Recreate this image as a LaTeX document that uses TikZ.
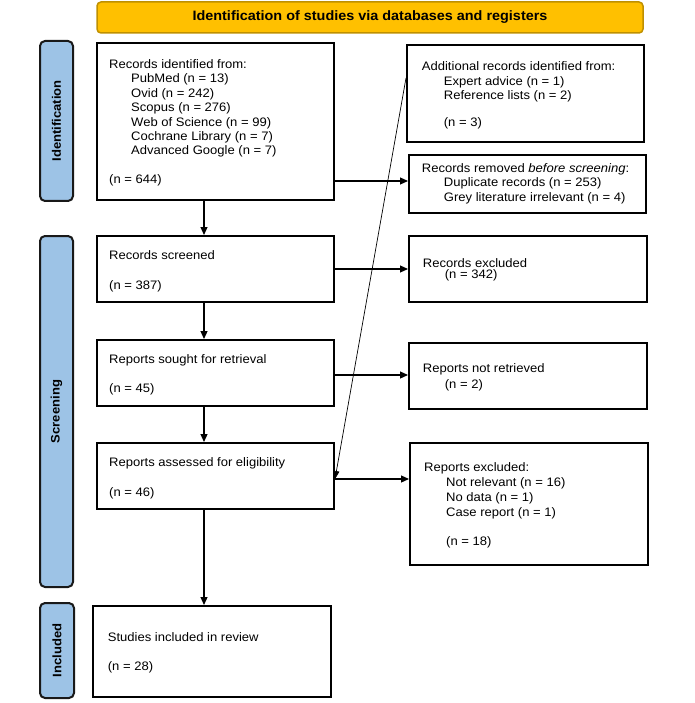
\documentclass[tikz,border=0pt]{standalone}
\usepackage{fontspec}
\setmainfont{Liberation Sans}[FakeStretch=1.06]
\usetikzlibrary{arrows.meta}
\definecolor{hdrfill}{HTML}{FFC000}
\definecolor{hdrdraw}{HTML}{BF9000}
\definecolor{barfill}{HTML}{9DC3E6}
\tikzset{
  box/.style={draw=black, line width=2pt, fill=white, inner sep=0pt},
  bar/.style={draw=black!90, line width=2pt, fill=barfill, rounded corners=5pt, inner sep=0pt},
  bartext/.style={rotate=90, font=\fontsize{12.3}{14}\selectfont\bfseries},
  txt/.style={anchor=base west, inner sep=0pt, font=\fontsize{12.3}{14.4}\selectfont},
  arr/.style={line width=1.2pt, -{Triangle[length=8pt,width=7pt]}},
  thin/.style={line width=0.7pt, -{Triangle[length=8pt,width=6pt]}},
}
\newcommand{\ind}{\hspace*{22pt}}
\newcommand{\tb}[1]{\begin{tabular}[t]{@{}l@{}}#1\end{tabular}}
\begin{document}
\begin{tikzpicture}[x=1pt,y=-1pt]
\useasboundingbox (0,0) rectangle (694,703);
% header
\node[draw=hdrdraw, line width=1.5pt, fill=hdrfill, rounded corners=4pt, minimum width=546pt, minimum height=31pt, inner sep=0pt, font=\fontsize{13.6}{15}\selectfont\bfseries] (hdr) at (370,17.5) {Identification of studies via databases and registers};
% side bars
\node[bar, minimum width=33pt, minimum height=160pt] (bid) at (56.5,121) {};
\node[bartext] (tid) at (bid.center) {Identification};
\node[bar, minimum width=33pt, minimum height=351pt] (bsc) at (56.5,411.5) {};
\node[bartext] (tsc) at (bsc.center) {Screening};
\node[bar, minimum width=34pt, minimum height=95pt] (bin) at (57,650.5) {};
\node[bartext] (tin) at (bin.center) {Included};
% boxes
\node[box, minimum width=237pt, minimum height=157pt] (ident) at (215.5,121.5) {};
\node[box, minimum width=237pt, minimum height=97pt] (addl) at (525.5,93.5) {};
\node[box, minimum width=237pt, minimum height=58pt] (remov) at (527.5,184) {};
\node[box, minimum width=237pt, minimum height=66pt] (scr) at (215.5,269) {};
\node[box, minimum width=238pt, minimum height=66pt] (rexc) at (528,269) {};
\node[box, minimum width=237pt, minimum height=66pt] (sought) at (215.5,373) {};
\node[box, minimum width=238pt, minimum height=66pt] (nret) at (528,376) {};
\node[box, minimum width=237pt, minimum height=66pt] (assess) at (215.5,476) {};
\node[box, minimum width=238pt, minimum height=122pt] (pexc) at (529,504) {};
\node[box, minimum width=238pt, minimum height=91pt] (incl) at (212,651.5) {};
% texts
\node[txt] (t1) at (109,68.5) {\tb{Records identified from:\\\ind PubMed (n = 13)\\\ind Ovid (n = 242)\\\ind Scopus (n = 276)\\\ind Web of Science (n = 99)\\\ind Cochrane Library (n = 7)\\\ind Advanced Google (n = 7)\\[14.4pt](n = 644)}};
\node[txt] (t2) at (421.7,71) {\tb{Additional records identified from:\\\ind Expert advice (n = 1)\\\ind Reference lists (n = 2)\\[12pt]\ind (n = 3)}};
\node[txt] (t3) at (421.7,172.6) {\tb{Records removed \textit{before screening}:\\\ind Duplicate records (n = 253)\\\ind Grey literature irrelevant (n = 4)}};
\node[txt] (t4) at (109,259.3) {\tb{Records screened\\[15.6pt](n = 387)}};
\node[txt] (t5) at (422.7,267) {\tb{Records excluded\\[-2.8pt]\ind (n = 342)}};
\node[txt] (t6) at (109,363.6) {\tb{Reports sought for retrieval\\[14.6pt](n = 45)}};
\node[txt] (t7) at (422.7,372) {\tb{Reports not retrieved\\[1.9pt]\ind (n = 2)}};
\node[txt] (t8) at (109,466.3) {\tb{Reports assessed for eligibility\\[15.6pt](n = 46)}};
\node[txt] (t9) at (424,471) {\tb{Reports excluded:\\[0.6pt]\ind Not relevant (n = 16)\\[0.6pt]\ind No data (n = 1)\\[0.6pt]\ind Case report (n = 1)\\[14.6pt]\ind (n = 18)}};
\node[txt] (t10) at (107.7,641) {\tb{Studies included in review\\[14.6pt](n = 28)}};
% arrows
\draw[arr] ([xshift=-11.5pt]ident.south) -- ([xshift=-11.5pt]scr.north);
\draw[arr] ([xshift=-11.5pt]scr.south) -- ([xshift=-11.5pt]sought.north);
\draw[arr] ([xshift=-11.5pt]sought.south) -- ([xshift=-11.5pt]assess.north);
\draw[arr] ([xshift=-11.5pt]assess.south) -- ([xshift=-8pt]incl.north);
\draw[arr] ([yshift=-59.5pt]ident.east) -- ([yshift=3pt]remov.west);
\draw[arr] (scr.east) -- (rexc.west);
\draw[arr] ([yshift=-2pt]sought.east) -- ([yshift=1pt]nret.west);
\draw[arr] ([yshift=-3pt]assess.east) -- ([yshift=25pt]pexc.west);
\draw[thin] ([yshift=15.5pt]addl.west) -- ([yshift=-3pt]assess.east);
\end{tikzpicture}
\end{document}
